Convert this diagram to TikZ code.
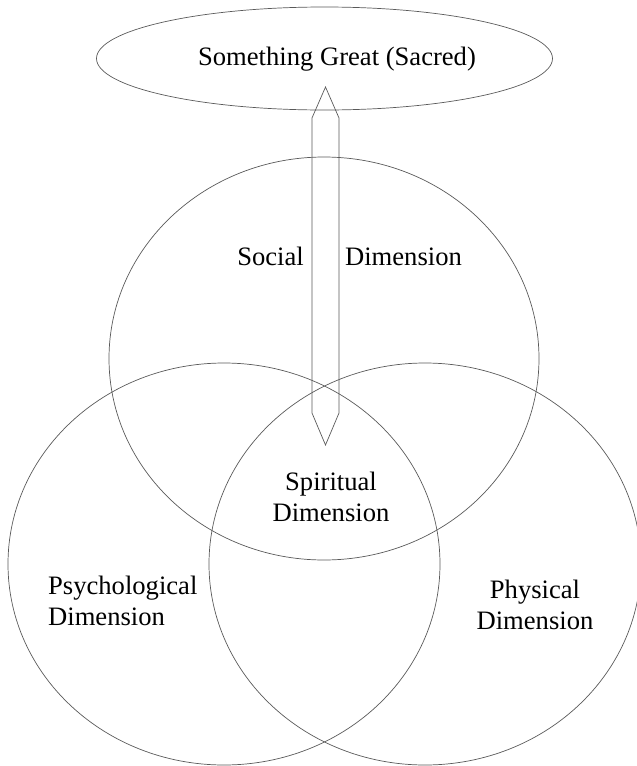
\documentclass[tikz,border=0pt]{standalone}
\usepackage{fontspec}
\setmainfont{Liberation Serif}
\usetikzlibrary{shapes.geometric,positioning}

\begin{document}
\begin{tikzpicture}[x=1pt,y=-1pt,thin]
\tikzstyle{dim}=[ellipse,draw=black!65,line width=0.7pt,inner sep=0pt,minimum width=432pt,minimum height=402pt]
\tikzstyle{lbl}=[inner sep=0pt,anchor=base,font=\fontsize{26.6}{31}\selectfont]

\useasboundingbox (0,0) rectangle (637,766);

% the three dimensions
\node[dim,minimum width=430pt,minimum height=403pt] (soc) at (324,358.5) {};
\node[dim] (psy) at (224,564) {};
\node[dim] (phy) at (425,564) {};

% the sacred
\node[dim,minimum width=456pt,minimum height=103pt] (sac) at (324.5,58.5) {};
\node[lbl] (sactxt) at (337,65) {Something Great (Sacred)};

% labels
\node[lbl] (soca) at (270.5,265) {Social};
\node[lbl] (socb) at (403.5,265) {Dimension};
\node[lbl,align=center] (spi) at (331,521) {Spiritual\\Dimension};
\node[lbl,align=left,anchor=base west] (psytxt) at (48,625) {Psychological\\Dimension};
\node[lbl,align=center] (phytxt) at (535,629) {Physical\\Dimension};

% link between sacred and spiritual
\draw[draw=black!65,line width=0.7pt] (312,118) -- (325.5,87) -- (339,118)
  -- (339,413) -- (325.5,445) -- (312,413) -- cycle;
\end{tikzpicture}
\end{document}
